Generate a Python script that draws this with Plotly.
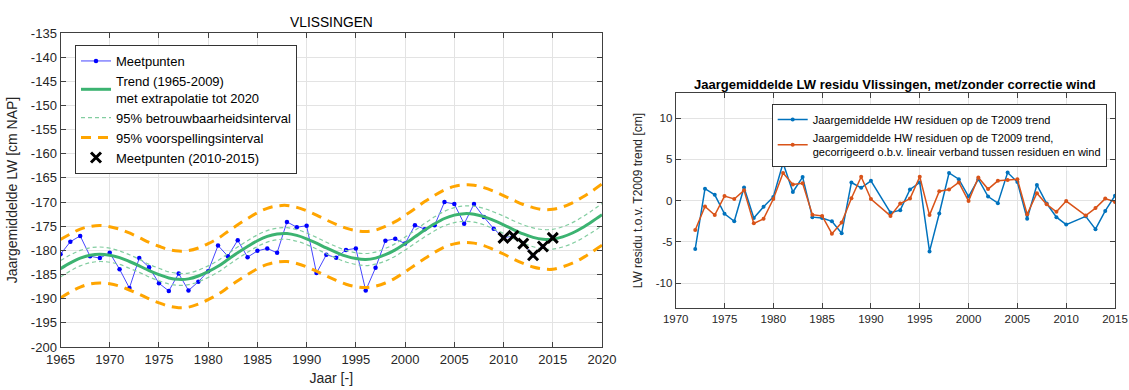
import plotly.graph_objects as go

# ---------------- data: left chart ----------------
years = list(range(1965, 2016))
meetpunten = [
    -180.8, -178.2, -177.0, -181.2, -181.6, -180.5, -183.9, -187.8, -181.6, -183.5,
    -186.8, -188.4, -184.8, -188.3, -186.5, -184.3, -179.0, -181.2, -177.9, -181.4,
    -180.1, -179.6, -180.5, -174.1, -175.2, -174.9, -184.7, -180.9, -181.5, -179.9,
    -179.6, -188.3, -183.6, -178.0, -177.6, -178.6, -174.8, -175.6, -174.8, -170.0,
    -170.4, -174.5, -170.4, -173.1, -175.5,
    -177.4, -177.0, -178.6, -181.0, -179.2, -177.4,
]
years_new = [2010, 2011, 2012, 2013, 2014, 2015]
meet_new = [-177.4, -177.0, -178.6, -181.0, -179.2, -177.4]

trend_years = list(range(1965, 2021))
trend = [
    -183.8, -182.6, -181.6, -181.0, -180.8, -181.0, -181.5, -182.3, -183.2, -184.2,
    -185.0, -185.7, -186.0, -185.9, -185.3, -184.4, -183.3, -181.9, -180.5, -179.2,
    -178.0, -177.1, -176.6, -176.5, -176.9, -177.6, -178.5, -179.5, -180.4, -181.2,
    -181.7, -181.9, -181.6, -180.9, -179.9, -178.6, -177.2, -175.8, -174.5, -173.4,
    -172.7, -172.4, -172.5, -173.0, -173.8, -174.7, -175.7, -176.6, -177.3, -177.7,
    -177.7, -177.2, -176.4, -175.3, -174.0, -172.6,
]
ci_half = [
    1.70, 1.65, 1.60, 1.55, 1.50, 1.45, 1.40, 1.40, 1.35, 1.30,
    1.30, 1.25, 1.25, 1.20, 1.20, 1.20, 1.20, 1.20, 1.20, 1.20,
    1.20, 1.20, 1.20, 1.20, 1.20, 1.20, 1.20, 1.20, 1.20, 1.20,
    1.20, 1.25, 1.25, 1.30, 1.30, 1.35, 1.35, 1.40, 1.45, 1.50,
    1.55, 1.60, 1.65, 1.70, 1.75, 1.80, 1.85, 1.90, 1.95, 2.00,
    2.05, 2.10, 2.15, 2.20, 2.25, 2.30,
]
pi_half = [
    6.05, 6.00, 6.00, 5.95, 5.95, 5.90, 5.90, 5.90, 5.85, 5.85,
    5.85, 5.85, 5.85, 5.85, 5.80, 5.80, 5.80, 5.80, 5.80, 5.80,
    5.80, 5.80, 5.80, 5.80, 5.80, 5.80, 5.80, 5.80, 5.80, 5.80,
    5.80, 5.80, 5.80, 5.85, 5.85, 5.85, 5.85, 5.90, 5.90, 5.90,
    5.95, 5.95, 6.00, 6.00, 6.05, 6.05, 6.10, 6.10, 6.15, 6.15,
    6.20, 6.20, 6.25, 6.30, 6.30, 6.35,
]
left_yticks = list(range(-200, -134, 5))
left_xticks = list(range(1965, 2021, 5))

# ---------------- data: right chart ----------------
res_years = list(range(1972, 1991)) + list(range(1992, 2011)) + [2012, 2013, 2014, 2015]
res_hw = [
    -5.85, 1.45, 0.7, -1.6, -2.5, 1.6, -2.1, -0.75, 0.45, 4.55,
    1.05, 2.85, -2.0, -2.1, -2.5, -3.95, 2.2, 1.55, 2.4,
    -1.45, -1.15, 1.35, 2.2, -6.15, -1.55, 3.35, 2.6, 0.5, 2.6,
    0.5, -0.3, 3.4, 2.25, -2.2, 1.9, -0.35, -2.0, -2.9,
    -1.9, -3.45, -1.25, 0.6,
]
res_wind = [
    -3.55, -0.7, -1.75, 0.55, 0.2, 1.25, -2.75, -2.2, 0.2, 3.35,
    1.95, 2.1, -1.7, -1.85, -4.0, -2.65, 0.3, 2.9, 0.2,
    -1.85, -0.35, 0.25, 2.9, -1.75, 1.15, 1.35, 2.2, -0.05, 2.8,
    1.4, 2.4, 2.5, 2.6, -1.65, 0.9, -0.45, -1.35, -0.05,
    -1.8, -0.9, 0.25, -0.15,
]
right_yticks = [-10, -5, 0, 5, 10]
right_xticks = list(range(1970, 2016, 5))

W, H = 1129, 390
FONT = "Liberation Sans, Arial, sans-serif"
ci_up = [t + c for t, c in zip(trend, ci_half)]
ci_lo = [t - c for t, c in zip(trend, ci_half)]
pi_up = [t + p for t, p in zip(trend, pi_half)]
pi_lo = [t - p for t, p in zip(trend, pi_half)]

fig = go.Figure()

GREEN = "rgb(60,179,113)"
LGREEN = "rgb(130,205,160)"
ORANGE = "rgb(255,165,0)"

fig.add_trace(go.Scatter(x=years, y=meetpunten, mode="lines+markers", name="Meetpunten",
                         line=dict(color="rgb(70,70,255)", width=1),
                         marker=dict(color="rgb(0,0,255)", size=4.5),
                         xaxis="x", yaxis="y", legend="legend"))
fig.add_trace(go.Scatter(x=trend_years, y=trend, mode="lines",
                         name="Trend (1965-2009)<br>met extrapolatie tot 2020",
                         line=dict(color=GREEN, width=3, shape="spline"),
                         xaxis="x", yaxis="y", legend="legend"))
fig.add_trace(go.Scatter(x=trend_years, y=ci_up, mode="lines", name="95% betrouwbaarheidsinterval",
                         line=dict(color=LGREEN, width=1.2, dash="4px,3px", shape="spline"),
                         legendgroup="ci", xaxis="x", yaxis="y", legend="legend"))
fig.add_trace(go.Scatter(x=trend_years, y=ci_lo, mode="lines", name="95% betrouwbaarheidsinterval",
                         line=dict(color=LGREEN, width=1.2, dash="4px,3px", shape="spline"),
                         legendgroup="ci", showlegend=False, xaxis="x", yaxis="y"))
fig.add_trace(go.Scatter(x=trend_years, y=pi_up, mode="lines", name="95% voorspellingsinterval",
                         line=dict(color=ORANGE, width=3, dash="10px,7px", shape="spline"),
                         legendgroup="pi", xaxis="x", yaxis="y", legend="legend"))
fig.add_trace(go.Scatter(x=trend_years, y=pi_lo, mode="lines", name="95% voorspellingsinterval",
                         line=dict(color=ORANGE, width=3, dash="10px,7px", shape="spline"),
                         legendgroup="pi", showlegend=False, xaxis="x", yaxis="y"))
fig.add_trace(go.Scatter(x=years_new, y=meet_new, mode="markers", name="Meetpunten (2010-2015)",
                         marker=dict(symbol="x-thin", size=10, line=dict(color="black", width=3), color="black"),
                         xaxis="x", yaxis="y", legend="legend"))

MBLUE = "rgb(0,114,189)"
MORANGE = "rgb(217,83,25)"
fig.add_trace(go.Scatter(x=res_years, y=res_hw, mode="lines+markers",
                         name="Jaargemiddelde HW residuen op de T2009 trend",
                         line=dict(color=MBLUE, width=1.5), marker=dict(color=MBLUE, size=4),
                         xaxis="x2", yaxis="y2", legend="legend2"))
fig.add_trace(go.Scatter(x=res_years, y=res_wind, mode="lines+markers",
                         name="Jaargemiddelde HW residuen op de T2009 trend,<br>gecorrigeerd o.b.v. lineair verband tussen residuen en wind",
                         line=dict(color=MORANGE, width=1.5), marker=dict(color=MORANGE, size=4),
                         xaxis="x2", yaxis="y2", legend="legend2"))

AX = "#404040"
GRID = "#e3e3e3"
common = dict(showline=True, linecolor=AX, linewidth=1, mirror="ticks", ticks="inside",
              ticklen=5, tickcolor=AX, showgrid=True, gridcolor=GRID, gridwidth=1,
              zeroline=False, color="#262626", automargin=False)

fig.update_layout(
    template="none",
    width=W, height=H,
    margin=dict(l=0, r=0, t=0, b=0, pad=0),
    paper_bgcolor="white", plot_bgcolor="white",
    font=dict(family=FONT, color="#262626"),
    xaxis=dict(domain=[60.5 / W, 602 / W], range=[1965, 2020],
               tickvals=left_xticks, ticktext=[str(v) for v in left_xticks],
               tickfont=dict(size=13), title=dict(text="Jaar [-]", font=dict(size=14), standoff=7),
               anchor="y", **common),
    yaxis=dict(domain=[1 - 347 / H, 1 - 33 / H], range=[-200, -135],
               tickvals=left_yticks, ticktext=[str(v) for v in left_yticks],
               tickfont=dict(size=13), anchor="x",
               title=dict(text="Jaargemiddelde LW [cm NAP]", font=dict(size=14), standoff=9),
               **common),
    xaxis2=dict(domain=[675.7 / W, 1115 / W], range=[1970, 2015],
                tickvals=right_xticks, ticktext=[str(v) for v in right_xticks],
                tickfont=dict(size=11.5), anchor="y2", **common),
    yaxis2=dict(domain=[1 - 308 / H, 1 - 93.3 / H], range=[-13, 13],
                tickvals=right_yticks, ticktext=[str(v) for v in right_yticks],
                tickfont=dict(size=11.5), anchor="x2",
                title=dict(text="LW residu t.o.v. T2009 trend [cm]", font=dict(size=12), standoff=10),
                **common),
    legend=dict(x=75 / W, y=1 - 45 / H, xanchor="left", yanchor="top", xref="paper", yref="paper",
                bgcolor="white", bordercolor="#333", borderwidth=1,
                font=dict(size=13, color="black"), itemwidth=30, tracegroupgap=0),
    legend2=dict(x=771.7 / W, y=1 - 104 / H, xanchor="left", yanchor="top", xref="paper", yref="paper",
                 bgcolor="white", bordercolor="#333", borderwidth=1,
                 font=dict(size=11, color="black"), itemwidth=30, tracegroupgap=0),
    showlegend=True,
    annotations=[
        dict(text="VLISSINGEN", x=331 / W, y=1 - 22 / H, xref="paper", yref="paper",
             showarrow=False, font=dict(size=13.8, color="black"), xanchor="center", yanchor="middle"),
        dict(text="<b>Jaargemiddelde LW residu Vlissingen, met/zonder correctie wind</b>",
             x=895 / W, y=1 - 84 / H, xref="paper", yref="paper",
             showarrow=False, font=dict(size=13, color="black"), xanchor="center", yanchor="middle"),
    ],
)

fig.write_html("out.html")
